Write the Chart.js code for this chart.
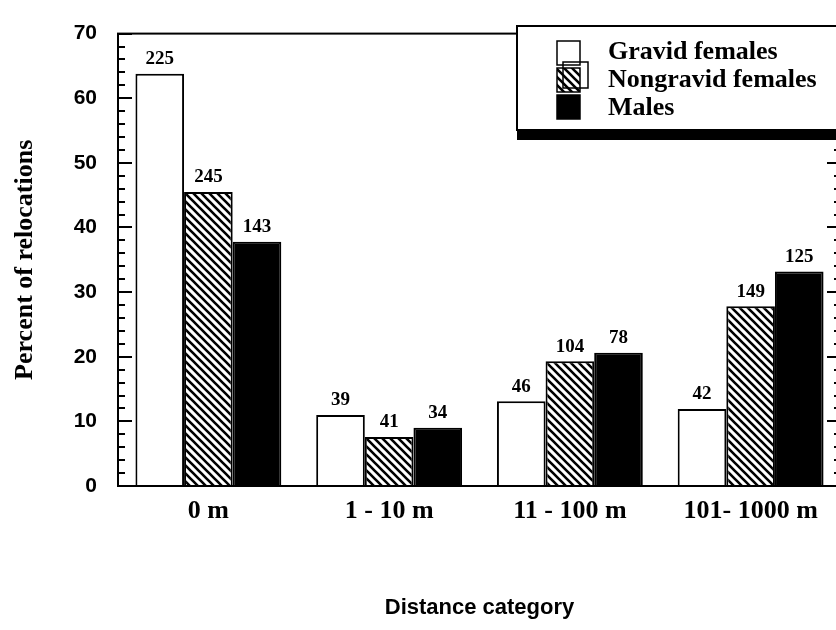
<!DOCTYPE html>
<html>
<head>
<meta charset="utf-8">
<script src="https://cdn.jsdelivr.net/npm/chart.js@4.4.1/dist/chart.umd.min.js"></script>
<style>
  html, body { margin: 0; padding: 0; background: #fff; overflow: hidden; }
  #wrap { width: 836px; height: 630px; overflow: hidden; }
  canvas { display: block; }
</style>
</head>
<body>
<div id="wrap"><canvas id="chart" width="846" height="630"></canvas></div>
<script>
// values
const categories = ["0 m", "1 - 10 m", "11 - 100 m", "101- 1000 m"];
const seriesNames = ["Gravid females", "Nongravid females", "Males"];
const gravidPct = [63.8, 11.0, 13.1, 11.9];
const nongravidPct = [45.5, 7.6, 19.3, 27.8];
const malePct = [37.8, 9.0, 20.6, 33.2];
const gravidN = [225, 39, 46, 42];
const nongravidN = [245, 41, 104, 149];
const maleN = [143, 34, 78, 125];
const yTickLabels = [0, 10, 20, 30, 40, 50, 60, 70];

const serif = "'Liberation Serif', 'Times New Roman', serif";
const sans = "'Liberation Sans', Arial, sans-serif";
const narrow = "'Liberation Sans Narrow', 'Liberation Sans', Arial, sans-serif";

function makeHatch() {
    const s = 8;
    const c = document.createElement("canvas");
    c.width = s;
    c.height = s;
    const g = c.getContext("2d");
    g.fillStyle = "#fff";
    g.fillRect(0, 0, s, s);
    g.strokeStyle = "#000";
    g.lineWidth = 2.6;
    g.beginPath();
    g.moveTo(-2, -2); g.lineTo(s + 2, s + 2);
    g.moveTo(-2, s - 2); g.lineTo(2, s + 2);
    g.moveTo(s - 2, -2); g.lineTo(s + 2, 2);
    g.stroke();
    return document.getElementById("chart").getContext("2d").createPattern(c, "repeat");
}

const hatch = makeHatch();
const counts = [gravidN, nongravidN, maleN];

// box, inward ticks on both sides
const framePlugin = {
    id: "frame",
    afterDatasetsDraw(chart) {
        const { ctx, chartArea: a, scales: { y } } = chart;
        ctx.save();
        ctx.strokeStyle = "#000";
        ctx.lineWidth = 2;
        ctx.strokeRect(a.left, a.top, a.right - a.left, a.bottom - a.top);
        y.ticks.forEach((t) => {
            const py = Math.round(y.getPixelForValue(t.value));
            const len = t.value % 10 === 0 ? 14 : 7;
            ctx.beginPath();
            ctx.moveTo(a.left, py);
            ctx.lineTo(a.left + len, py);
            ctx.moveTo(a.right, py);
            ctx.lineTo(a.right - len, py);
            ctx.stroke();
        });
        ctx.restore();
    },
};

// sample sizes above bars
const countsPlugin = {
    id: "counts",
    afterDatasetsDraw(chart) {
        const ctx = chart.ctx;
        ctx.save();
        ctx.fillStyle = "#000";
        ctx.font = "bold 19px " + serif;
        ctx.textAlign = "center";
        ctx.textBaseline = "bottom";
        chart.data.datasets.forEach((ds, i) => {
            chart.getDatasetMeta(i).data.forEach((bar, j) => {
                ctx.fillText(String(counts[i][j]), bar.x, bar.y - 5);
            });
        });
        ctx.restore();
    },
};

// boxed legend with drop shadow, top right
const legendPlugin = {
    id: "boxLegend",
    afterDraw(chart) {
        const ctx = chart.ctx;
        const left = 517, top = 26, w = 400, h = 104;
        ctx.save();
        ctx.fillStyle = "#fff";
        ctx.fillRect(left, top, w, h);
        ctx.fillStyle = "#000";
        ctx.fillRect(left, top + h, w, 10);
        ctx.strokeStyle = "#000";
        ctx.lineWidth = 2;
        ctx.strokeRect(left, top, w, h);

        const sx = 557, sw = 23, sh = 24;
        const rowsTop = [41, 68, 95];
        const baselines = [59, 87, 115];
        chart.data.datasets.forEach((ds, i) => {
            ctx.fillStyle = ds.backgroundColor;
            ctx.fillRect(sx, rowsTop[i], sw, sh);
            ctx.lineWidth = 1.5;
            ctx.strokeRect(sx, rowsTop[i], sw, sh);
            ctx.fillStyle = "#000";
            ctx.font = "bold 26px " + serif;
            ctx.textAlign = "left";
            ctx.textBaseline = "alphabetic";
            ctx.fillText(ds.label, 608, baselines[i]);
        });
        // the stray outline square next to the hatched swatch
        ctx.lineWidth = 1.5;
        ctx.strokeRect(563, 62, 25, 26);
        ctx.restore();
    },
};

new Chart(document.getElementById("chart"), {
    type: "bar",
    data: {
        labels: categories,
        datasets: [
            { label: seriesNames[0], data: gravidPct, backgroundColor: "#fff" },
            { label: seriesNames[1], data: nongravidPct, backgroundColor: hatch },
            { label: seriesNames[2], data: malePct, backgroundColor: "#000" },
        ],
    },
    options: {
        responsive: false,
        animation: false,
        devicePixelRatio: 1,
        layout: { padding: { top: 27, right: 5, bottom: 0, left: 0 } },
        datasets: {
            bar: {
                borderColor: "#000",
                borderWidth: 2,
                categoryPercentage: 0.807,
                barPercentage: 1.0,
            },
        },
        plugins: {
            legend: { display: false },
            tooltip: { enabled: false },
        },
        scales: {
            x: {
                offset: true,
                grid: { display: false, drawTicks: false },
                border: { display: true, color: "#000", width: 2 },
                ticks: {
                    color: "#000",
                    padding: 10,
                    font: { family: serif, size: 26, weight: "bold" },
                },
                title: {
                    display: true,
                    text: "Distance category",
                    color: "#000",
                    font: { family: sans, size: 22, weight: "bold" },
                    padding: { top: 0, bottom: 9 },
                },
                afterFit(scale) {
                    scale.height = 144;
                },
            },
            y: {
                min: 0,
                max: 70,
                grid: { display: false, drawTicks: false },
                border: { display: true, color: "#000", width: 2 },
                ticks: {
                    stepSize: 2,
                    autoSkip: false,
                    padding: 21,
                    color: "#000",
                    font: { family: narrow, size: 21, weight: "bold" },
                    callback: (v) => (yTickLabels.includes(v) ? String(v) : ""),
                },
                title: {
                    display: true,
                    text: "Percent of relocations",
                    color: "#000",
                    font: { family: serif, size: 26, weight: "bold" },
                    padding: { top: 10, bottom: 0 },
                },
                afterFit(scale) {
                    scale.width = 118;
                },
            },
        },
    },
    plugins: [framePlugin, countsPlugin, legendPlugin],
});
</script>
</body>
</html>
